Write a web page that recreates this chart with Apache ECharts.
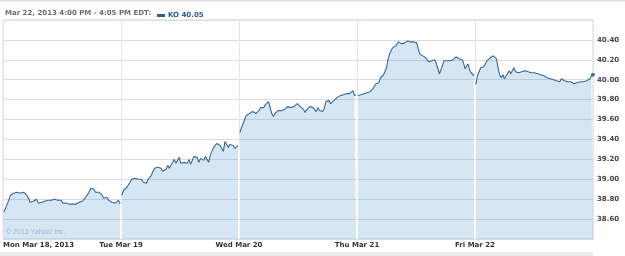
<!DOCTYPE html>
<html>
<head>
<meta charset="utf-8">
<script src="https://cdn.jsdelivr.net/npm/echarts@6/dist/echarts.min.js"></script>
<style>html,body{margin:0;padding:0;background:#fff;}#c{width:625px;height:256px;}</style>
</head>
<body>
<div id="c"></div>
<script>
// ---- data (KO, 5-minute prices, Mar 18-22 2013) ----
const dayLabels = ['Mon Mar 18, 2013', 'Tue Mar 19', 'Wed Mar 20', 'Thu Mar 21', 'Fri Mar 22'];
const yTickLabels = ['38.60', '38.80', '39.00', '39.20', '39.40', '39.60', '39.80', '40.00', '40.20', '40.40'];
const headerText = 'Mar 22, 2013 4:00 PM - 4:05 PM EDT:';
const seriesName = 'KO 40.05';

const monVals = [38.67,38.66,38.75,38.79,38.84,38.82,38.86,38.88,38.87,38.85,38.86,38.88,38.87,38.86,38.84,38.81,38.77,38.76,38.78,38.76,38.80,38.76,38.77,38.77,38.77,38.78,38.78,38.79,38.79,38.79,38.80,38.80,38.80,38.79,38.78,38.79,38.76,38.76,38.76,38.77,38.75,38.76,38.75,38.74,38.75,38.77,38.77,38.76,38.78,38.80,38.82,38.84,38.87,38.91,38.92,38.90,38.87,38.89,38.87,38.85,38.84,38.81,38.80,38.82,38.79,38.80,38.77,38.79,38.76,38.78,38.79,38.75];
const tueVals = [38.84,38.89,38.91,38.92,38.94,38.97,39.00,38.99,39.01,38.99,39.00,38.98,39.00,38.97,38.95,38.96,39.00,39.02,39.04,39.08,39.11,39.10,39.12,39.13,39.11,39.08,39.06,39.10,39.14,39.11,39.12,39.17,39.20,39.16,39.18,39.22,39.16,39.17,39.17,39.17,39.16,39.20,39.15,39.19,39.23,39.22,39.22,39.17,39.21,39.22,39.19,39.23,39.20,39.17,39.24,39.28,39.32,39.34,39.36,39.36,39.34,39.32,39.28,39.38,39.35,39.32,39.35,39.33,39.34,39.31,39.33,39.34];
const wedVals = [39.47,39.52,39.56,39.57,39.64,39.66,39.66,39.67,39.68,39.67,39.66,39.67,39.69,39.72,39.73,39.72,39.75,39.77,39.78,39.72,39.66,39.63,39.66,39.67,39.69,39.70,39.69,39.71,39.70,39.71,39.73,39.71,39.72,39.72,39.73,39.74,39.76,39.77,39.73,39.72,39.70,39.67,39.70,39.71,39.73,39.71,39.72,39.70,39.68,39.72,39.69,39.70,39.68,39.71,39.78,39.76,39.79,39.76,39.78,39.79,39.81,39.82,39.83,39.84,39.86,39.85,39.87,39.86,39.84,39.86,39.88,39.89,39.84,39.85];
const thuVals = [39.84,39.85,39.85,39.86,39.86,39.87,39.87,39.88,39.88,39.89,39.91,39.93,39.96,39.95,39.97,40.02,40.04,40.05,40.06,40.12,40.21,40.26,40.29,40.32,40.31,40.34,40.36,40.38,40.36,40.36,40.35,40.37,40.36,40.39,40.40,40.38,40.39,40.38,40.39,40.37,40.31,40.26,40.25,40.24,40.26,40.22,40.20,40.18,40.18,40.19,40.19,40.20,40.16,40.11,40.06,40.08,40.14,40.19,40.20,40.19,40.19,40.19,40.20,40.20,40.21,40.23,40.22,40.21,40.20,40.20,40.17,40.11,40.12,40.16,40.10,40.07,40.06,40.04];
const friVals = [39.95,40.04,40.08,40.12,40.14,40.13,40.15,40.19,40.21,40.22,40.23,40.24,40.23,40.21,40.12,40.05,40.02,40.05,40.01,40.03,40.06,40.09,40.06,40.09,40.12,40.08,40.06,40.07,40.07,40.08,40.07,40.09,40.07,40.08,40.07,40.07,40.06,40.07,40.07,40.06,40.07,40.05,40.03,40.04,40.03,40.02,40.01,40.01,40.01,40.00,40.00,39.99,40.00,39.98,40.01,40.00,39.99,40.00,39.98,39.99,39.98,39.97,39.96,39.95,39.97,39.98,39.98,39.98,39.98,39.96,39.99,40.01,40.01,40.04,40.05];

const days = [monVals, tueVals, wedVals, thuVals, friVals];
const SESSION = 390; // minutes in a trading session
const Y_MIN = 38.4, Y_MAX = 40.6;

// build [time, value] pairs with a break between sessions
const lineData = [];
days.forEach((vals, d) => {
  if (d > 0) lineData.push([d * SESSION, null]);
  const start = d * SESSION + 3;
  const end = d === days.length - 1 ? (d + 1) * SESSION : (d + 1) * SESSION - 3;
  vals.forEach((v, i) => lineData.push([start + (end - start) * i / (vals.length - 1), v]));
});
const lastPt = lineData[lineData.length - 1];

// white separators inside the filled area at each session boundary
const sepLines = [];
for (let d = 1; d < days.length; d++) {
  const prev = days[d - 1][days[d - 1].length - 1];
  const next = days[d][0];
  sepLines.push([{ coord: [d * SESSION, Y_MIN] }, { coord: [d * SESSION, Math.min(prev, next)] }]);
}

const FONT = 'DejaVu Sans';
const chart = echarts.init(document.getElementById('c'), null, { renderer: 'canvas' });
chart.setOption({
  animation: false,
  grid: { left: 3, right: 32, top: 20, bottom: 17, show: true, borderColor: '#d3d9e0', borderWidth: 1 },
  legend: {
    data: [seriesName], left: 152, top: 7, icon: 'rect', itemWidth: 8, itemHeight: 3, itemGap: 4,
    textStyle: { color: '#2b5c97', fontWeight: 'bold', fontSize: 7, fontFamily: FONT, padding: [0, 0, 0, -2] }
  },
  xAxis: {
    type: 'value', min: 0, max: SESSION * days.length, interval: SESSION,
    axisLine: { show: false }, axisTick: { show: false },
    splitLine: { show: true, lineStyle: { color: '#e1e6ec', width: 1 } },
    axisLabel: {
      formatter: v => dayLabels[Math.round(v / SESSION)] || '',
      showMaxLabel: false, alignMinLabel: 'left', margin: 3,
      color: '#333', fontWeight: 'bold', fontSize: 7, fontFamily: FONT
    }
  },
  yAxis: {
    type: 'value', position: 'right', min: Y_MIN, max: Y_MAX, interval: 0.2,
    axisLine: { show: false }, axisTick: { show: false },
    splitLine: { lineStyle: { color: '#d7dde4', width: 1 } },
    axisLabel: {
      formatter: v => { const s = v.toFixed(2); return yTickLabels.includes(s) ? s : ''; },
      margin: 4, color: '#444', fontWeight: 'bold', fontSize: 7, fontFamily: FONT
    }
  },
  series: [
    {
      name: seriesName, type: 'line', data: lineData, showSymbol: false, connectNulls: false,
      lineStyle: { color: '#386899', width: 1.1 },
      itemStyle: { color: '#2b5c97' },
      areaStyle: { color: 'rgba(85,150,205,0.34)' },
      markLine: {
        silent: true, symbol: 'none', label: { show: false },
        lineStyle: { color: '#ffffff', width: 1.5, type: 'solid' },
        data: sepLines
      }
    },
    {
      type: 'scatter', data: [lastPt], symbolSize: 4, itemStyle: { color: '#2b5c97' }, silent: true
    }
  ],
  graphic: [
    { type: 'rect', left: 0, top: 0, shape: { width: 625, height: 1.5 }, style: { fill: '#dedede' } },
    { type: 'text', left: 5, top: 10, style: { text: headerText, fill: '#6b6b6b', font: 'bold 7px ' + FONT } },
    { type: 'text', left: 6, top: 229, style: { text: '\u00a9 2013 Yahoo! Inc.', fill: '#bcc7d2', font: '7px Liberation Sans' } },
    { type: 'rect', left: 0, top: 252, shape: { width: 593, height: 4 }, style: { fill: '#ececec' } }
  ]
});
</script>
</body>
</html>
